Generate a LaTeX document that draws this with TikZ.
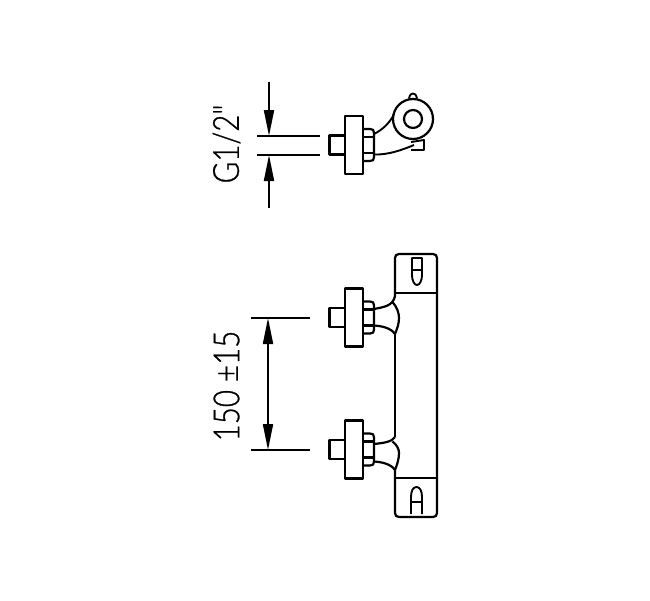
\documentclass[tikz,border=0pt]{standalone}
\usepackage{fontspec}
\newfontfamily\dimfont[FakeBold=0.8]{Lato Light}
\usetikzlibrary{arrows.meta}
\tikzset{
  part/.style={draw=black,line width=2.2pt,line join=round},
  thin part/.style={draw=black,line width=1.9pt,line join=round},
  dimline/.style={draw=black,line width=1.9pt},
  dimarrow/.style={draw=black,line width=1.9pt,-{Triangle[length=26pt,width=10pt]}},
  dimtext/.style={inner sep=0pt,rotate=90,font=\dimfont\fontsize{36}{36}\selectfont}
}
\newcommand{\fitting}[1]{%
  \draw[part] (329.5,#1-9.5) rectangle (345,#1+9.5);
  \draw[part,fill=white] (345,#1-29) rectangle (363,#1+29);
  \draw[part] (363,#1-16) -- (370,#1-16) .. controls (373,#1-16) and (374,#1-15) .. (374,#1-12) -- (374,#1+12) .. controls (374,#1+15) and (373,#1+16) .. (370,#1+16) -- (363,#1+16);
  \draw[part] (363,#1-8) -- (374,#1-8) (363,#1+8) -- (374,#1+8);
}
\begin{document}
\begin{tikzpicture}[x=1pt,y=-1pt]
\useasboundingbox (0,0) rectangle (650,600);
\fill[white] (0,0) rectangle (650,600);
% upper view
\fitting{145}
\draw[part] (413,119) circle[radius=20];
\draw[part] (413,119) circle[radius=9];
\draw[thin part] (409,98.5) .. controls (410,94.5) and (411,93.5) .. (413,93.5) .. controls (415,93.5) and (416,94.5) .. (417,98.5);
\draw[thin part] (374,134) .. controls (382,130) and (390,123) .. (394,114);
\draw[thin part] (374,154.5) .. controls (388,155) and (402,150) .. (414,145);
\draw[thin part] (411,150) -- (424,150) -- (424,140) -- (411,142);
% lower view body
\draw[part] (395,296) -- (395,258) .. controls (395,255.5) and (396.5,254) .. (399,254) -- (433,254) .. controls (435.5,254) and (437,255.5) .. (437,258) -- (437,513) .. controls (437,515.5) and (435.5,517) .. (433,517) -- (399,517) .. controls (396.5,517) and (395,515.5) .. (395,513) -- (395,470);
\draw[part] (395,293) -- (437,293);
\draw[part] (395,478) -- (437,478);
\draw[part] (395,334) -- (395,437);
% top marker
\draw[thin part] (412,258) -- (422,258) -- (422,275) .. controls (422,280) and (420,285) .. (417,285) .. controls (414,285) and (412,280) .. (412,275) -- cycle;
\draw[thin part] (412,270) -- (422,270);
% A marker
\draw[thin part] (411,514) -- (411,497) .. controls (411,491) and (413,487) .. (416.5,487) .. controls (420,487) and (422,491) .. (422,497) -- (422,514);
\draw[thin part] (411,502) -- (422,502);
% fittings
\fitting{317.5}
\fitting{449.5}
\draw[part] (374,309) .. controls (384,307) and (393,306) .. (395,296);
\draw[part] (392.5,302) .. controls (397,307) and (399,313) .. (399,318) .. controls (399,324) and (397,329) .. (395,334);
\draw[part] (374,325.5) .. controls (382,326) and (391,328) .. (395,334);
\draw[part] (374,444) .. controls (383,443) and (392,442) .. (395,437);
\draw[part] (392.5,441.5) .. controls (397,445) and (399,449) .. (399,453) .. controls (399,459) and (397,465) .. (395,470);
\draw[part] (374,461.5) .. controls (382,462) and (391,464) .. (395,470);
% dimensions
\coordinate (ga) at (269,82); \coordinate (gb) at (269,136);
\coordinate (gc) at (269,208); \coordinate (gd) at (269,155);
\coordinate (da) at (268,318); \coordinate (db) at (268,450);
\draw[dimline] (257,136) -- (320,136);
\draw[dimline] (257,155) -- (320,155);
\draw[dimarrow] (ga) -- (gb);
\draw[dimarrow] (gc) -- (gd);
\draw[dimline] (251,318) -- (310,318);
\draw[dimline] (251,450) -- (310,450);
\draw[dimarrow,{Triangle[length=26pt,width=10pt]}-{Triangle[length=26pt,width=10pt]}] (da) -- (db);
\node[dimtext,xscale=0.82] (glabel) at (226.5,144) {G1/2"};
\node[dimtext,xscale=0.82] (dlabel) at (226.5,386) {150 ±15};
\end{tikzpicture}
\end{document}
